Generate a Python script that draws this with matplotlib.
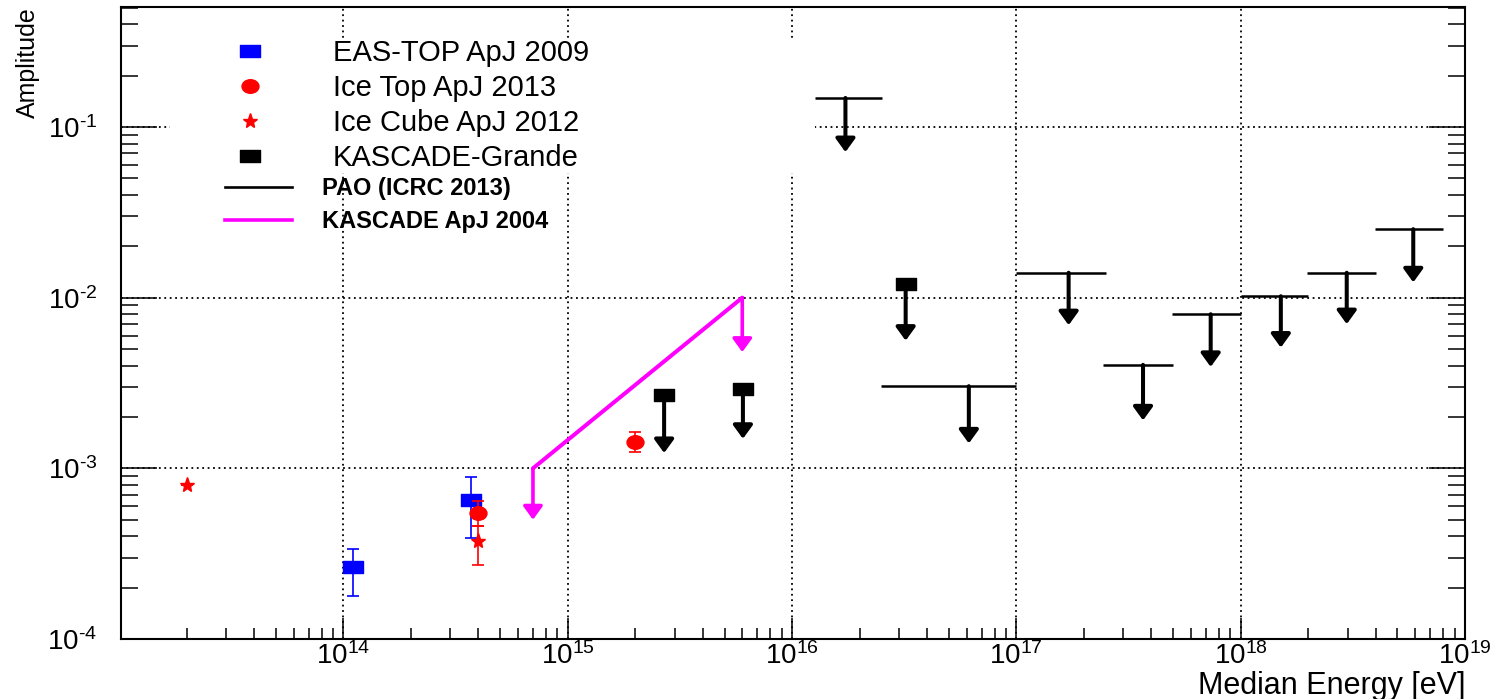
import matplotlib
matplotlib.use("Agg")
import matplotlib.pyplot as plt
import numpy as np
from matplotlib.path import Path
from matplotlib.lines import Line2D
from matplotlib.patches import Rectangle
from matplotlib.ticker import FixedLocator, FuncFormatter, NullFormatter

plt.rcParams['font.family'] = ['Liberation Sans', 'DejaVu Sans']
plt.rcParams['mathtext.fontset'] = 'custom'
plt.rcParams['mathtext.rm'] = 'Liberation Sans'
plt.rcParams['mathtext.it'] = 'Liberation Sans:italic'
plt.rcParams['mathtext.bf'] = 'Liberation Sans:bold'

# ---------------- data ----------------
eastop_x = [1.1e14, 3.7e14]
eastop_y = [2.64e-4, 6.5e-4]
eastop_lo = [1.79e-4, 3.9e-4]
eastop_hi = [3.39e-4, 8.9e-4]

icetop_x = [4.0e14, 2.0e15]
icetop_y = [5.5e-4, 1.43e-3]
icetop_lo = [4.6e-4, 1.25e-3]
icetop_hi = [6.4e-4, 1.63e-3]

icecube_x = [2.0e13, 4.0e14]
icecube_y = [8.0e-4, 3.77e-4]
icecube_lo = [8.0e-4, 2.7e-4]
icecube_hi = [8.0e-4, 4.6e-4]

kg_x = [2.69e15, 6.04e15, 3.21e16]
kg_y = [2.68e-3, 2.93e-3, 1.2e-2]
kg_tip = [1.23e-3, 1.49e-3, 5.6e-3]

pao_lo = [1.27e16, 2.48e16, 1.0e17, 2.43e17, 4.95e17, 1.0e18, 1.97e18, 3.95e18]
pao_hi = [2.53e16, 1.0e17, 2.51e17, 5.0e17, 1.0e18, 2.0e18, 4.0e18, 8.0e18]
pao_x = [1.73e16, 6.14e16, 1.71e17, 3.67e17, 7.35e17, 1.51e18, 2.97e18, 5.88e18]
pao_y = [0.148, 3.03e-3, 1.40e-2, 4.04e-3, 8.0e-3, 1.02e-2, 1.40e-2, 2.52e-2]
pao_tip = [0.0713, 1.4e-3, 6.9e-3, 1.91e-3, 3.93e-3, 5.1e-3, 7.0e-3, 1.23e-2]

kas04_x = [7.0e14, 6.0e15]
kas04_y = [1.0e-3, 1.0e-2]
kas04_tip = [5.0e-4, 4.8e-3]

legend1_labels = ['EAS-TOP ApJ 2009', 'Ice Top ApJ 2013', 'Ice Cube ApJ 2012', 'KASCADE-Grande']
legend2_labels = ['PAO (ICRC 2013)', 'KASCADE ApJ 2004']

x_decades = [14, 15, 16, 17, 18, 19]
y_decades = [-4, -3, -2, -1]

BLUE = '#0000ff'
RED = '#ff0000'
MAGENTA = '#ff00ff'
BLACK = '#000000'

# ---------------- marker shapes (ROOT-like, slightly wide) ----------------
rect_marker = Path([(-1, -0.68), (1, -0.68), (1, 0.68), (-1, 0.68), (-1, -0.68)],
                   [Path.MOVETO, Path.LINETO, Path.LINETO, Path.LINETO, Path.CLOSEPOLY])
_c = Path.unit_circle()
ell_marker = Path(_c.vertices * np.array([1.0, 0.8]), _c.codes)

# ---------------- figure ----------------
W, H = 1501, 699
fig = plt.figure(figsize=(W / 100, H / 100), dpi=100)
ax_l, ax_r, ax_t, ax_b = 121, 1465, 7, 639
ax = fig.add_axes([ax_l / W, (H - ax_b) / H, (ax_r - ax_l) / W, (ax_b - ax_t) / H])

ax.set_xscale('log')
ax.set_yscale('log')
xmin, xmax = 1.02e13, 1e19
ymin, ymax = 1e-4, 0.505
ax.set_xlim(xmin, xmax)
ax.set_ylim(ymin, ymax)

xmaj = [10.0 ** e for e in x_decades]
ymaj = [10.0 ** e for e in y_decades]
xmin_ticks = [m * 10.0 ** e for e in range(13, 19) for m in range(2, 10)
              if xmin <= m * 10.0 ** e <= xmax]
ymin_ticks = [m * 10.0 ** e for e in range(-4, 0) for m in range(2, 10)
              if ymin <= m * 10.0 ** e <= ymax]
ax.xaxis.set_major_locator(FixedLocator(xmaj))
ax.xaxis.set_minor_locator(FixedLocator(xmin_ticks))
ax.yaxis.set_major_locator(FixedLocator(ymaj))
ax.yaxis.set_minor_locator(FixedLocator(ymin_ticks))


def _fmt(v, p):
    e = int(round(np.log10(v)))
    if e < 0:
        return r'$\mathregular{10^{\text{-}%d}}$' % (-e)
    return r'$\mathregular{10^{%d}}$' % e


fmt = FuncFormatter(_fmt)
ax.xaxis.set_major_formatter(fmt)
ax.yaxis.set_major_formatter(fmt)
ax.xaxis.set_minor_formatter(NullFormatter())
ax.yaxis.set_minor_formatter(NullFormatter())

ax.tick_params(which='both', direction='in', top=False, right=True, width=1.1, colors='black')
ax.tick_params(axis='x', which='major', length=15, pad=2.5, labelsize=20)
ax.tick_params(axis='x', which='minor', length=8)
ax.tick_params(axis='y', which='major', length=26, pad=17, labelsize=20)
ax.tick_params(axis='y', which='minor', length=12.5)
for s in ax.spines.values():
    s.set_linewidth(1.5)

ax.set_axisbelow(True)
ax.grid(True, which='major', color='black', linestyle=(0, (1, 2.0)), linewidth=1.3)

# white area behind the legend (hides the grid there, as in the reference)
ax.add_patch(Rectangle((0.0365, 0.737), 0.4795, 0.214, transform=ax.transAxes,
                       facecolor='white', edgecolor='none', zorder=0.8))


def down_arrow(x, y0, y1, color, lw):
    ax.annotate('', xy=(x, y1), xytext=(x, y0),
                arrowprops=dict(arrowstyle='-|>,head_length=0.8,head_width=0.58',
                                mutation_scale=10, color=color, lw=lw,
                                shrinkA=0, shrinkB=0),
                zorder=4)


# KASCADE ApJ 2004 (magenta)
ax.plot(kas04_x, kas04_y, color=MAGENTA, lw=2.9, zorder=3, solid_capstyle='round')
for x, y, t in zip(kas04_x, kas04_y, kas04_tip):
    down_arrow(x, y, t, MAGENTA, 2.6)

# PAO upper limits
ax.hlines(pao_y, pao_lo, pao_hi, color=BLACK, lw=1.8, zorder=3)
for x, y, t in zip(pao_x, pao_y, pao_tip):
    down_arrow(x, y, t, BLACK, 2.9)

# KASCADE-Grande
for x, y, t in zip(kg_x, kg_y, kg_tip):
    down_arrow(x, y, t, BLACK, 2.9)
ax.plot(kg_x, kg_y, ls='none', marker=rect_marker, ms=13.7, color=BLACK, zorder=5)


def err(y, lo, hi):
    y = np.asarray(y); lo = np.asarray(lo); hi = np.asarray(hi)
    return [y - lo, hi - y]


ax.errorbar(eastop_x, eastop_y, yerr=err(eastop_y, eastop_lo, eastop_hi), ls='none',
            marker=rect_marker, ms=13.7, color=BLUE, mec=BLUE, elinewidth=1.2,
            capsize=4.5, capthick=1.2, zorder=5)
ax.errorbar(icecube_x, icecube_y, yerr=err(icecube_y, icecube_lo, icecube_hi), ls='none',
            marker='*', ms=11, color=RED, mec=RED, elinewidth=1.2,
            capsize=4.5, capthick=1.2, zorder=5)
ax.errorbar(icetop_x, icetop_y, yerr=err(icetop_y, icetop_lo, icetop_hi), ls='none',
            marker=ell_marker, ms=12.2, color=RED, mec=RED, elinewidth=1.2,
            capsize=4.5, capthick=1.2, zorder=6)

# legends
h1 = [Line2D([], [], ls='none', marker=rect_marker, ms=13.7, color=BLUE),
      Line2D([], [], ls='none', marker=ell_marker, ms=12.2, color=RED),
      Line2D([], [], ls='none', marker='*', ms=11, color=RED),
      Line2D([], [], ls='none', marker=rect_marker, ms=13.7, color=BLACK)]
leg1 = ax.legend(h1, legend1_labels, loc='upper left',
                 bbox_to_anchor=(220.8 / W, (H - 39) / H), bbox_transform=fig.transFigure,
                 frameon=False, prop=dict(size=21), handlelength=2.0, handletextpad=1.84,
                 labelspacing=0.24, borderpad=0, borderaxespad=0)
ax.add_artist(leg1)

h2 = [Line2D([], [], color=BLACK, lw=1.9),
      Line2D([], [], color=MAGENTA, lw=2.6)]
leg2 = ax.legend(h2, legend2_labels, loc='upper left',
                 bbox_to_anchor=(225 / W, (H - 177) / H), bbox_transform=fig.transFigure,
                 frameon=False, prop=dict(size=17, weight='bold'), handlelength=2.84,
                 handletextpad=1.27, labelspacing=0.42, borderpad=0, borderaxespad=0)

ax.set_ylabel('Amplitude', fontsize=18, loc='top')
ax.yaxis.set_label_coords(-0.060, 1.0)
ax.set_xlabel('Median Energy [eV]', fontsize=22, loc='right')
ax.xaxis.set_label_coords(1.0, -0.051)

fig.savefig('out.png', dpi=100)
